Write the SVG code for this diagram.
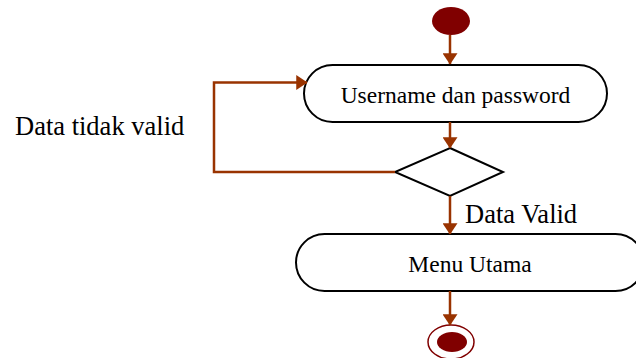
<svg xmlns="http://www.w3.org/2000/svg" width="636" height="358" viewBox="0 0 636 358">
<style>
.node{fill:#fff;stroke:#000;stroke-width:2}
.lbl{font-family:"Liberation Serif","Times New Roman",serif;fill:#000;text-anchor:middle}
.edge{fill:none;stroke:#993300;stroke-width:2.5}
.guard{font-family:"Liberation Serif","Times New Roman",serif;fill:#000;font-size:26.5px}
</style>
<defs>
<marker id="arr" markerWidth="4.5" markerHeight="6" refX="4.3" refY="3" orient="auto" markerUnits="strokeWidth">
<path d="M0,0 L4.5,3 L0,6 Z" fill="#993300"/>
</marker>
</defs>
<g id="start">
<ellipse cx="451" cy="21" rx="19" ry="14" fill="#800000"/>
</g>
<g id="login">
<rect class="node" x="304" y="65" width="303" height="57" rx="28.5" ry="28.5"/>
<text class="lbl" x="455.5" y="103" font-size="23.5">Username dan password</text>
</g>
<g id="decision">
<polygon class="node" points="450,148 503,172 450,196 395,172"/>
</g>
<g id="menu">
<rect class="node" x="296" y="234" width="348" height="57" rx="28.5" ry="28.5"/>
<text class="lbl" x="470" y="272" font-size="23.5">Menu Utama</text>
</g>
<g id="end">
<ellipse cx="451" cy="342" rx="23" ry="17" fill="#fff" stroke="#800000" stroke-width="1.5"/>
<ellipse cx="452" cy="342" rx="15" ry="10" fill="#800000"/>
</g>
<g id="connectors">
<line class="edge" x1="450" y1="35" x2="450" y2="64" marker-end="url(#arr)"/>
<line class="edge" x1="450" y1="122" x2="450" y2="148" marker-end="url(#arr)"/>
<polyline class="edge" points="395,172 214,172 214,82.5 307,82.5" marker-end="url(#arr)"/>
<line class="edge" x1="450" y1="196" x2="450" y2="234" marker-end="url(#arr)"/>
<line class="edge" x1="450" y1="291" x2="450" y2="325" marker-end="url(#arr)"/>
<text class="guard" x="15" y="135">Data tidak valid</text>
<text class="guard" x="465" y="223">Data Valid</text>
</g>
</svg>
